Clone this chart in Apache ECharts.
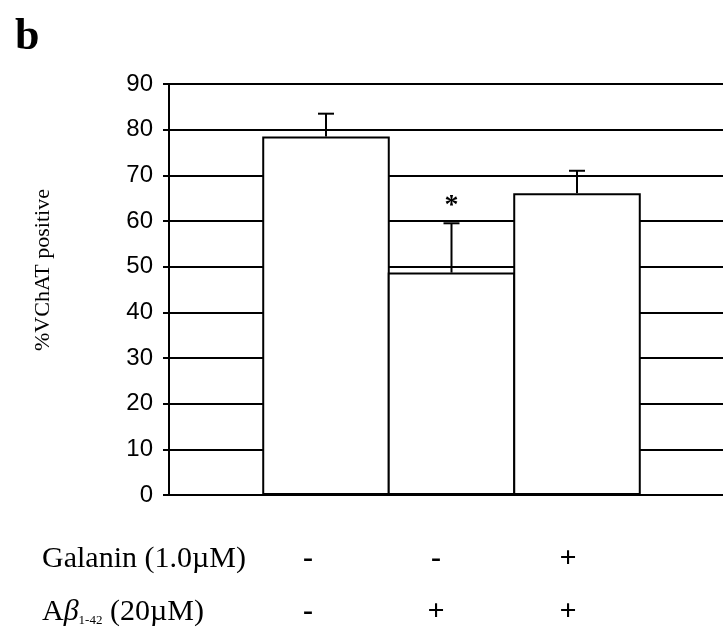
<!DOCTYPE html>
<html>
<head>
<meta charset="utf-8">
<script src="https://cdn.jsdelivr.net/npm/echarts@6/dist/echarts.min.js"></script>
<style>
  html, body { margin: 0; padding: 0; background: #fff; overflow: hidden; }
  #chart { width: 740px; height: 631px; }
</style>
</head>
<body>
<div id="chart"></div>
<script>
// Treatment groups (one bar each)
const groups = ['Control', 'Aβ1-42', 'Aβ1-42 + Galanin'];
// Mean % VChAT-positive cells and upper error (SEM)
const means = [78.5, 48.7, 66.1];
const errors = [5.0, 10.8, 4.9];
// Significance marks above error bars
const marks = ['', '*', ''];
// Treatment table under the chart
const galaninSigns = ['-', '-', '+'];
const abetaSigns = ['-', '+', '+'];
// Y axis ticks
const yMin = 0, yMax = 90, yStep = 10;

const serif = '"Liberation Serif", "Times New Roman", serif';
const sans = '"Liberation Sans", Arial, sans-serif';
const CATEGORY_GAP = 0.33;
const BAR_GAP = -0.016;   // adjacent bars share one border line

const chart = echarts.init(document.getElementById('chart'));

const barSeries = groups.map((g, i) => ({
  name: g,
  type: 'bar',
  barGap: (BAR_GAP * 100) + '%',
  barCategoryGap: (CATEGORY_GAP * 100) + '%',
  data: [means[i]],
  itemStyle: { color: '#fff', borderColor: '#000', borderWidth: 2 },
  emphasis: { disabled: true },
  z: 3
}));

const errorSeries = {
  type: 'custom',
  z: 5,
  encode: { x: 0, y: 1 },
  data: groups.map((g, i) => [0, means[i], errors[i], i]),
  renderItem: function (params, api) {
    const v = api.value(1), e = api.value(2), idx = api.value(3);
    const base = api.coord([0, v]);
    const top = api.coord([0, v + e]);
    const band = api.size([1, 0])[0];
    const n = groups.length;
    const bw = band * (1 - CATEGORY_GAP) / (n + (n - 1) * BAR_GAP);
    const step = bw * (1 + BAR_GAP);
    const x = base[0] + (idx - (n - 1) / 2) * step;
    const style = { stroke: '#000', lineWidth: 2 };
    const children = [
      { type: 'line', shape: { x1: x, y1: base[1], x2: x, y2: top[1] }, style },
      { type: 'line', shape: { x1: x - 8, y1: top[1], x2: x + 8, y2: top[1] }, style }
    ];
    if (marks[idx]) {
      children.push({
        type: 'text',
        style: {
          text: marks[idx], x: x, y: top[1] - 18,
          fill: '#000', font: 'bold 28px ' + serif,
          textAlign: 'center', textVerticalAlign: 'middle'
        }
      });
    }
    return { type: 'group', children };
  }
};

const signX = [308, 436, 568];
const graphics = [
  { type: 'text', left: 15, top: 16,
    style: { text: 'b', font: 'bold 44px ' + serif, fill: '#000' } },
  { type: 'text', x: 43, y: 270, rotation: Math.PI / 2,
    style: { text: '%VChAT positive', font: '22px ' + serif, fill: '#000',
             textAlign: 'center', textVerticalAlign: 'middle' } },
  { type: 'text', x: 42, y: 559,
    style: { text: 'Galanin (1.0µM)', font: '30px ' + serif, fill: '#000',
             textVerticalAlign: 'middle' } },
  { type: 'text', x: 42, y: 612,
    style: {
      text: '{a|A}{b|β}{s|1-42}{a| (20µM)}',
      textVerticalAlign: 'middle',
      rich: {
        a: { font: '30px ' + serif, fill: '#000' },
        b: { font: 'italic 30px ' + serif, fill: '#000' },
        s: { font: '13px ' + serif, fill: '#000', verticalAlign: 'bottom', padding: [14, 0, 0, 0] }
      }
    } }
];
galaninSigns.forEach((s, i) => graphics.push({
  type: 'text', x: signX[i], y: 559,
  style: { text: s, font: 'bold 30px ' + serif, fill: '#000', textAlign: 'center', textVerticalAlign: 'middle' }
}));
abetaSigns.forEach((s, i) => graphics.push({
  type: 'text', x: signX[i], y: 612,
  style: { text: s, font: 'bold 30px ' + serif, fill: '#000', textAlign: 'center', textVerticalAlign: 'middle' }
}));

chart.setOption({
  animation: false,
  backgroundColor: '#fff',
  grid: { left: 169, top: 84, width: 565, height: 411 },
  xAxis: {
    type: 'category',
    data: ['all'],
    axisLine: { show: true, lineStyle: { color: '#000', width: 2 } },
    axisTick: { show: false },
    axisLabel: { show: false },
    splitLine: { show: false }
  },
  yAxis: {
    type: 'value',
    min: yMin, max: yMax, interval: yStep,
    axisLine: { show: true, lineStyle: { color: '#000', width: 2 } },
    axisTick: { show: true, length: 6, lineStyle: { color: '#000', width: 2 } },
    axisLabel: { color: '#000', fontFamily: sans, fontSize: 24, margin: 16 },
    splitLine: { show: true, lineStyle: { color: '#000', width: 2 } }
  },
  series: [...barSeries, errorSeries],
  graphic: graphics
});
</script>
</body>
</html>
